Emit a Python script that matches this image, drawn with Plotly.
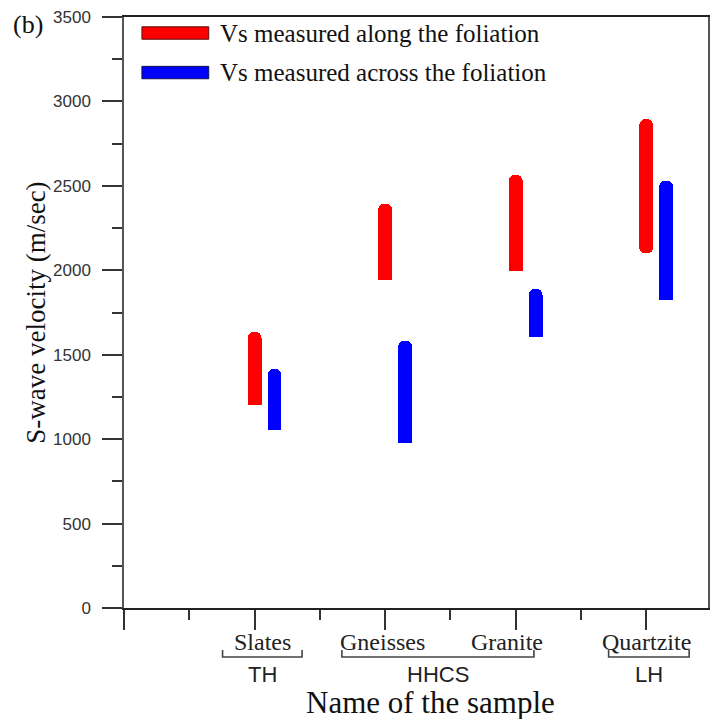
import plotly.graph_objects as go

# --- data -------------------------------------------------------------
samples = ["Slates", "Gneisses", "Granite", "Quartzite"]
along_low = [1200, 1945, 1996, 2100]
along_high = [1635, 2395, 2565, 2895]
across_low = [1055, 977, 1605, 1825]
across_high = [1415, 1582, 1890, 2530]

groups = ["TH", "HHCS", "LH"]
group_members = [["Slates"], ["Gneisses", "Granite"], ["Quartzite"]]

y_ticks = [0, 500, 1000, 1500, 2000, 2500, 3000, 3500]

# --- styling ----------------------------------------------------------
RED = "#ff0000"
BLUE = "#0000ff"
SERIF = "Liberation Serif, Times New Roman, serif"
SANS = "Liberation Sans, Arial, sans-serif"
ROUND_BOTTOM = {"Quartzite"}        # along-foliation bars capped at both ends

PLOT_W = 586                        # plot-area width in px
PX_PER_UNIT = 131                   # one category step on the x axis
X_MAX = PLOT_W / PX_PER_UNIT

xpos = [i + 1 for i in range(len(samples))]
ACROSS_OFFSET = 20 / PX_PER_UNIT
BAR_W = 14 / PX_PER_UNIT
RADIUS = "50%"

fig = go.Figure()


def add_series(xs, lows, highs, names, color, label, round_bottom):
    flat = [i for i, n in enumerate(names) if n not in round_bottom]
    caps = [i for i, n in enumerate(names) if n in round_bottom]
    # invisible spacer from zero up to the lower end (stacked underneath)
    fig.add_trace(go.Bar(x=[xs[i] for i in flat], y=[lows[i] for i in flat],
                         width=BAR_W, showlegend=False, hoverinfo="skip",
                         marker=dict(color="rgba(0,0,0,0)", line=dict(width=0))))
    # velocity range, rounded at the upper end only
    fig.add_trace(go.Bar(x=[xs[i] for i in flat],
                         y=[highs[i] - lows[i] for i in flat],
                         customdata=[[lows[i], highs[i]] for i in flat],
                         hovertemplate="%{customdata[0]}–%{customdata[1]} m/s",
                         width=BAR_W, name=label, showlegend=False,
                         marker=dict(color=color, line=dict(width=0), cornerradius=RADIUS)))
    # velocity range rounded at both ends (drawn with an explicit base)
    if caps:
        fig.add_trace(go.Bar(x=[xs[i] for i in caps],
                             y=[highs[i] - lows[i] for i in caps],
                             base=[lows[i] for i in caps],
                             width=BAR_W, name=label, showlegend=False,
                             marker=dict(color=color, line=dict(width=0), cornerradius=RADIUS)))


add_series(xpos, along_low, along_high, samples, RED,
           "Vs measured along the foliation", ROUND_BOTTOM)
add_series([x + ACROSS_OFFSET for x in xpos], across_low, across_high, samples,
           BLUE, "Vs measured across the foliation", set())

# --- legend (wide swatches) ------------------------------------------
legend_items = [("Vs measured along the foliation", RED, 0.9729),
                ("Vs measured across the foliation", BLUE, 0.9060)]
for text, col, yc in legend_items:
    fig.add_shape(type="rect", xref="paper", yref="paper",
                  x0=0.0307, x1=0.1451, y0=yc - 0.0105, y1=yc + 0.0105,
                  fillcolor=col, line=dict(color="#5a1010" if col == RED else "#101050", width=1))
    fig.add_annotation(xref="paper", yref="paper", x=0.1604, y=yc, text=text,
                       showarrow=False, xanchor="left", yanchor="middle",
                       font=dict(family=SERIF, size=25, color="#111"))

# --- sample names under the axis ------------------------------------
name_shift = {"Slates": 8, "Gneisses": -3, "Granite": -9, "Quartzite": 0}
for x, s in zip(xpos, samples):
    fig.add_annotation(xref="x", yref="paper", x=x, y=-0.0575, text=s,
                       xshift=name_shift[s], showarrow=False, yanchor="middle",
                       font=dict(family=SERIF, size=24, color="#222"))

# --- group brackets under the sample names --------------------------
pos_of = dict(zip(samples, xpos))
pads = {"TH": (0.245, 0.364), "HHCS": (0.331, 0.14), "LH": (0.288, 0.329)}
y_bar, y_end = -0.0829, -0.0711
for g, members in zip(groups, group_members):
    left = pos_of[members[0]] - pads[g][0]
    right = pos_of[members[-1]] + pads[g][1]
    fig.add_shape(type="path", xref="x", yref="paper",
                  path=f"M {left},{y_end} L {left},{y_bar} L {right},{y_bar} L {right},{y_end}",
                  line=dict(color="#444", width=1.6))
    fig.add_annotation(xref="x", yref="paper", x=(left + right) / 2, y=-0.1117,
                       text=g, showarrow=False, yanchor="middle",
                       font=dict(family=SANS, size=22, color="#222"))

# --- titles -----------------------------------------------------------
fig.add_annotation(xref="paper", yref="paper", x=0.5256, y=-0.1607,
                   text="Name of the sample", showarrow=False, yanchor="middle",
                   font=dict(family=SERIF, size=31, color="#111"))
fig.add_annotation(xref="paper", yref="paper", x=-0.1519, y=0.5,
                   text="S-wave velocity (m/sec)", textangle=-90, showarrow=False,
                   xanchor="center", yanchor="middle",
                   font=dict(family=SERIF, size=27, color="#111"))
fig.add_annotation(xref="paper", yref="paper", x=-0.1638, y=0.9865,
                   text="(b)", showarrow=False, xanchor="center", yanchor="middle",
                   font=dict(family=SERIF, size=26, color="#111"))

fig.update_layout(
    width=714, height=719,
    margin=dict(l=124, r=714 - 124 - PLOT_W, t=17, b=111),
    paper_bgcolor="white", plot_bgcolor="white",
    barmode="stack", showlegend=False,
    xaxis=dict(range=[0, X_MAX], showgrid=False, zeroline=False,
               tickvals=[0] + xpos, showticklabels=False,
               ticks="outside", ticklen=20, tickwidth=1.5, tickcolor="#333",
               minor=dict(dtick=0.5, tick0=0, ticks="outside", ticklen=10,
                          tickwidth=1.5, tickcolor="#333"),
               showline=True, linecolor="#222", linewidth=2, mirror=True),
    yaxis=dict(range=[0, 3500], showgrid=False, zeroline=False,
               tickvals=y_ticks, ticks="outside", ticklen=20, tickwidth=1.5,
               tickcolor="#333", ticklabelstandoff=8,
               minor=dict(dtick=250, tick0=0, ticks="outside", ticklen=10,
                          tickwidth=1.5, tickcolor="#333"),
               showline=True, linecolor="#555", linewidth=1.5, mirror=True,
               tickfont=dict(family=SANS, size=17, color="#333")),
)

fig.write_html("out.html")
